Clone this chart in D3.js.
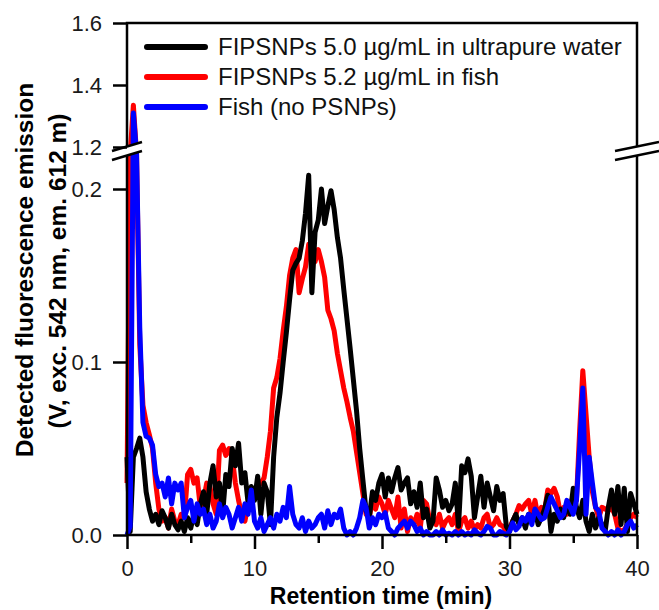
<!DOCTYPE html>
<html>
<head>
<meta charset="utf-8">
<script src="https://d3js.org/d3.v7.min.js"></script>
<style>
  body { margin: 0; background: #fff; }
  svg { font-family: "Liberation Sans", Arial, sans-serif; }
</style>
</head>
<body>
<div id="chart"></div>
<script>
// retention time grid, one reading every 0.25 min
var times = d3.range(0, 40.001, 0.25);

// FIPSNPs 5.0 ug/mL in ultrapure water
var water = [
  0.045,0.002,0.045,0.050, 0.056,0.045,0.025,0.015, 0.008,0.012,0.006,0.014, 0.010,0.004,0.012,0.006,
  0.003,0.008,0.002,0.010, 0.004,0.012,0.006,0.018, 0.025,0.012,0.030,0.040, 0.022,0.030,0.012,0.035,
  0.028,0.050,0.040,0.053, 0.030,0.036,0.018,0.028, 0.020,0.034,0.012,0.030, 0.025,0.006,0.045,0.068,
  0.082,0.100,0.117,0.136, 0.153,0.157,0.160,0.170, 0.186,0.208,0.140,0.175, 0.182,0.200,0.180,0.190,
  0.199,0.188,0.172,0.160, 0.142,0.125,0.108,0.090, 0.072,0.050,0.032,0.014, 0.010,0.025,0.020,0.030,
  0.035,0.022,0.033,0.025, 0.033,0.039,0.026,0.030, 0.033,0.018,0.025,0.016, 0.030,0.010,0.015,0.004,
  0.008,0.033,0.026,0.016, 0.020,0.014,0.018,0.030, 0.005,0.040,0.036,0.044, 0.034,0.010,0.022,0.034,
  0.016,0.030,0.022,0.014, 0.028,0.020,0.024,0.005, 0.002,0.008,0.012,0.006, 0.010,0.004,0.012,0.008,
  0.014,0.006,0.010,0.015, 0.023,0.002,0.012,0.008, 0.015,0.010,0.018,0.012, 0.027,0.016,0.010,0.020,
  0.008,0.002,0.012,0.004, 0.010,0.006,0.002,0.016, 0.026,0.012,0.028,0.006, 0.027,0.002,0.024,0.018,
  0.012
];

// FIPSNPs 5.2 ug/mL in fish
var fish = [
  0.030,0.400,1.335,0.250, 0.110,0.075,0.065,0.058, 0.050,0.030,0.015,0.008, 0.010,0.004,0.015,0.008,
  0.006,0.012,0.010,0.035, 0.038,0.030,0.033,0.016, 0.020,0.030,0.028,0.018, 0.012,0.049,0.052,0.046,
  0.050,0.045,0.030,0.020, 0.012,0.008,0.018,0.025, 0.022,0.028,0.030,0.033, 0.045,0.060,0.085,0.091,
  0.102,0.118,0.132,0.150, 0.160,0.165,0.140,0.148, 0.155,0.168,0.160,0.158, 0.165,0.158,0.149,0.130,
  0.125,0.118,0.105,0.095, 0.085,0.077,0.068,0.060, 0.048,0.036,0.024,0.012, 0.010,0.020,0.015,0.022,
  0.018,0.012,0.020,0.015, 0.010,0.022,0.004,0.015, 0.002,0.010,0.006,0.012, 0.004,0.020,0.018,0.008,
  0.010,0.006,0.012,0.004, 0.008,0.010,0.006,0.012, 0.002,0.008,0.010,0.004, 0.008,0.003,0.006,0.004,
  0.010,0.012,0.004,0.006, 0.010,0.006,0.005,0.002, 0.004,0.008,0.012,0.017, 0.015,0.018,0.020,0.012,
  0.020,0.010,0.016,0.014, 0.026,0.024,0.027,0.022, 0.012,0.016,0.012,0.018, 0.022,0.020,0.060,0.095,
  0.070,0.045,0.025,0.016, 0.010,0.016,0.015,0.014, 0.016,0.012,0.004,0.002, 0.003,0.006,0.010,0.012,
  0.010
];

// Fish (no PSNPs)
var blank = [
  0.000,0.005,1.310,0.240, 0.120,0.065,0.057,0.056, 0.052,0.035,0.028,0.030, 0.022,0.033,0.018,0.030,
  0.026,0.030,0.010,0.016, 0.020,0.008,0.018,0.012, 0.015,0.006,0.012,0.004, 0.008,0.018,0.010,0.016,
  0.012,0.004,0.010,0.016, 0.008,0.018,0.012,0.026, 0.008,0.004,0.010,0.002, 0.006,0.010,0.004,0.012,
  0.008,0.016,0.010,0.028, 0.012,0.006,0.004,0.010, 0.002,0.008,0.004,0.006, 0.010,0.012,0.004,0.014,
  0.006,0.012,0.010,0.015, 0.004,0.000,0.002,0.000, 0.004,0.010,0.020,0.016, 0.004,0.010,0.006,0.012,
  0.010,0.013,0.004,0.002, 0.000,0.004,0.006,0.008, 0.004,0.008,0.006,0.002, 0.004,0.000,0.002,0.000,
  0.000,0.002,0.000,0.003, 0.000,0.001,0.000,0.002, 0.000,0.002,0.000,0.001, 0.000,0.003,0.001,0.000,
  0.002,0.005,0.004,0.000, 0.000,0.002,0.001,0.000, 0.002,0.007,0.003,0.005, 0.010,0.008,0.012,0.006,
  0.015,0.012,0.009,0.010, 0.016,0.022,0.018,0.014, 0.010,0.012,0.020,0.016, 0.012,0.020,0.050,0.085,
  0.012,0.045,0.030,0.016, 0.014,0.004,0.002,0.000, 0.002,0.000,0.003,0.000, 0.002,0.006,0.008,0.004,
  0.006
];

var legendNames = ["FIPSNPs 5.0 \u00b5g/mL in ultrapure water", "FIPSNPs 5.2 \u00b5g/mL in fish", "Fish (no PSNPs)"];
var colors = ["#000000", "#ff0000", "#0000ff"];
var xTicks = [0, 10, 20, 30, 40];
var xMinor = [5, 15, 25, 35];
var yTicks = [0, 0.1, 0.2, 1.2, 1.4, 1.6];

var svgWidth = 659, svgHeight = 610;
var plotLeft = 127, plotRight = 637, plotTop = 23, plotBottom = 535;

var svg = d3.select("#chart").append("svg")
            .attr("width", svgWidth)
            .attr("height", svgHeight);

// x scale plus a broken y scale (0-0.22 below the break, 1.19-1.6 above it)
var x = d3.scaleLinear().domain([0, 40]).range([plotLeft, plotRight]);
var yLow = d3.scaleLinear().domain([0, 0.2]).range([plotBottom, 189]);
var yHigh = d3.scaleLinear().domain([1.2, 1.6]).range([147, plotTop]);
var y = d3.scaleLinear()
          .domain([0, 0.22, 1.19, 1.6])
          .range([yLow(0), yLow(0.22), yHigh(1.19), yHigh(1.6)]);

var line = d3.line()
             .x(function(d, i) { return x(times[i]); })
             .y(function(d) { return y(d); });

// drawing order: fish, water, blank on top
var series = [
  {values: fish, color: colors[1]},
  {values: water, color: colors[0]},
  {values: blank, color: colors[2]}
];
svg.selectAll(".trace").data(series).enter()
   .append("path")
     .attr("class", "trace")
     .attr("d", function(d) { return line(d.values); })
     .attr("fill", "none")
     .attr("stroke", function(d) { return d.color; })
     .attr("stroke-width", 5)
     .attr("stroke-linejoin", "round");

// frame
svg.append("rect")
   .attr("x", plotLeft).attr("y", plotTop)
   .attr("width", plotRight - plotLeft).attr("height", plotBottom - plotTop)
   .attr("fill", "none")
   .attr("stroke", "#000")
   .attr("stroke-width", 2.5);

// axis break marks on both sides
function drawBreak(cx, half) {
  var yc = 151, gap = 4.5, rise = 4.5;
  svg.append("polygon")
     .attr("points", [[cx - half, yc + rise - gap], [cx + half, yc - rise - gap],
                      [cx + half, yc - rise + gap], [cx - half, yc + rise + gap]].join(" "))
     .attr("fill", "#fff");
  [-gap, gap].forEach(function(o) {
    svg.append("line")
       .attr("x1", cx - half).attr("y1", yc + rise + o)
       .attr("x2", cx + half).attr("y2", yc - rise + o)
       .attr("stroke", "#000").attr("stroke-width", 2.5);
  });
}
drawBreak(plotLeft, 15);
drawBreak(plotRight, 22);

// axes
var yAxis = svg.append("g")
               .attr("transform", "translate(" + plotLeft + ",0)")
               .call(d3.axisLeft(y).tickValues(yTicks).tickFormat(d3.format(".1f"))
                        .tickSize(14).tickPadding(11));
var xAxis = svg.append("g")
               .attr("transform", "translate(0," + plotBottom + ")")
               .call(d3.axisBottom(x).tickValues(xTicks).tickFormat(d3.format("d"))
                        .tickSize(14).tickPadding(11));
var xAxisMinor = svg.append("g")
               .attr("transform", "translate(0," + plotBottom + ")")
               .call(d3.axisBottom(x).tickValues(xMinor).tickFormat("").tickSize(8));

[yAxis, xAxis, xAxisMinor].forEach(function(g) {
  g.select(".domain").remove();
  g.attr("font-family", null).attr("font-size", null);
  g.selectAll(".tick line").attr("stroke", "#000").attr("stroke-width", 2.5);
  g.selectAll(".tick text").attr("fill", "#1a1a1a").style("font-size", "22px");
});

// axis titles
svg.append("text")
   .attr("x", (plotLeft + plotRight) / 2 - 1).attr("y", 604)
   .attr("text-anchor", "middle")
   .style("font-size", "23px").style("font-weight", "bold")
   .text("Retention time (min)");

svg.append("text")
   .attr("transform", "translate(33,270) rotate(-90)")
   .attr("text-anchor", "middle")
   .style("font-size", "24.5px").style("font-weight", "bold")
   .text("Detected fluorescence emission");
svg.append("text")
   .attr("transform", "translate(66,271) rotate(-90)")
   .attr("text-anchor", "middle")
   .style("font-size", "24.5px").style("font-weight", "bold")
   .text("(V, exc. 542 nm, em. 612 m)");

// legend
var legend = svg.selectAll(".legend").data(legendNames).enter()
                .append("g").attr("class", "legend")
                .attr("transform", function(d, i) { return "translate(0," + (47 + i * 30) + ")"; });
legend.append("line")
      .attr("x1", 147).attr("x2", 205)
      .attr("stroke", function(d, i) { return colors[i]; })
      .attr("stroke-width", 6)
      .attr("stroke-linecap", "round");
legend.append("text")
      .attr("x", 218).attr("y", 8)
      .style("font-size", "24px")
      .attr("fill", "#111")
      .text(function(d) { return d; });
</script>
</body>
</html>
